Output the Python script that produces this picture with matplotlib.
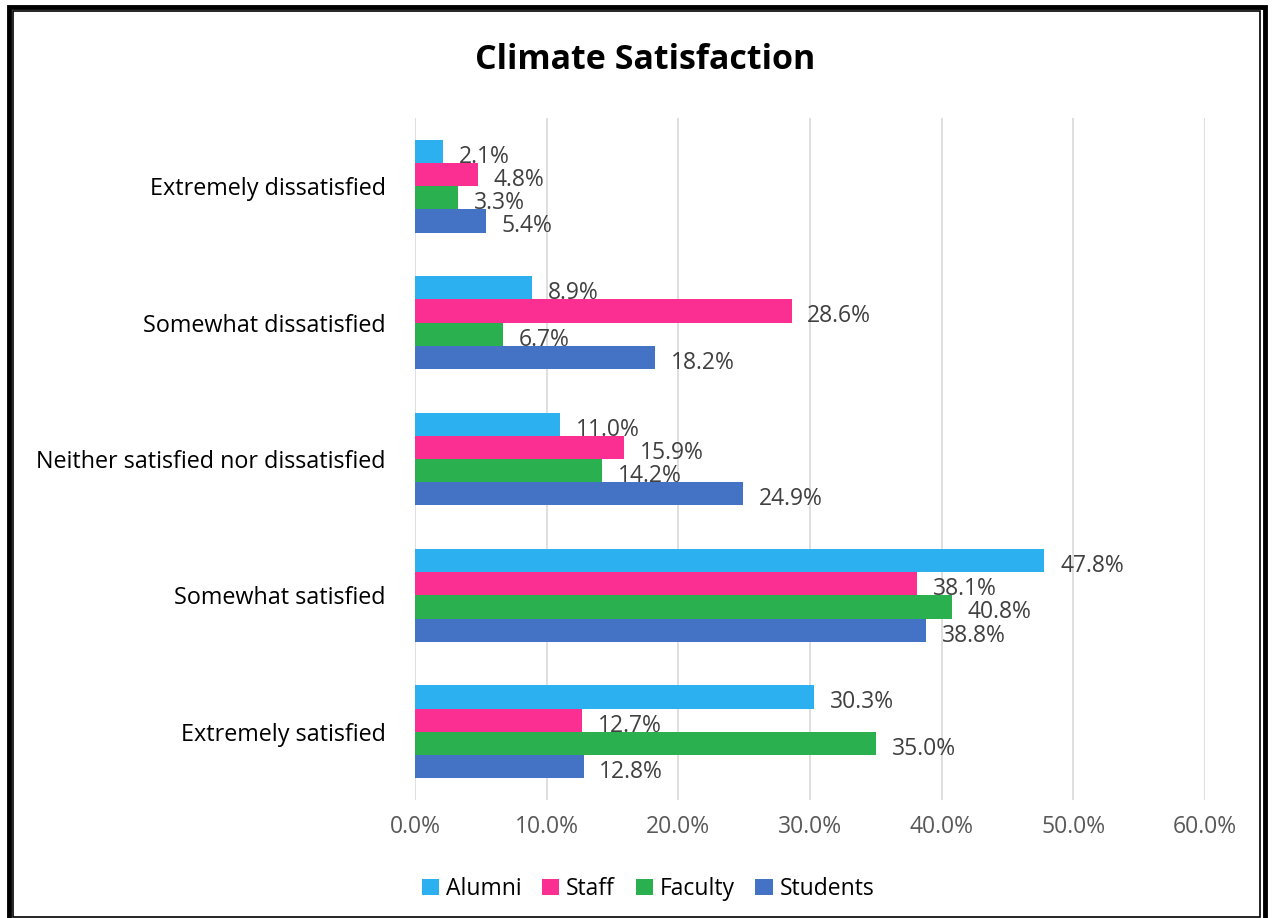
import matplotlib.pyplot as plt
import numpy as np
from matplotlib.patches import Rectangle

categories = ['Extremely dissatisfied', 'Somewhat dissatisfied', 'Neither satisfied nor dissatisfied',
              'Somewhat satisfied', 'Extremely satisfied']
series = ['Alumni', 'Staff', 'Faculty', 'Students']
alumni = [2.1, 8.9, 11.0, 47.8, 30.3]
staff = [4.8, 28.6, 15.9, 38.1, 12.7]
faculty = [3.3, 6.7, 14.2, 40.8, 35.0]
students = [5.4, 18.2, 24.9, 38.8, 12.8]
values = [alumni, staff, faculty, students]
colors = ['#2cb0ef', '#fb2f92', '#2bb04f', '#4472c4']

plt.rcParams['font.family'] = ['Open Sans', 'DejaVu Sans']

W, H = 1273, 918
fig = plt.figure(figsize=(W / 100, H / 100), dpi=100)
ax = fig.add_axes([415 / W, 1 - 800 / H, 790 / W, 682 / H])

y = np.arange(len(categories))
h = 0.17
for i, (vals, c, name) in enumerate(zip(values, colors, series)):
    pos = y + (i - 1.5) * h
    ax.barh(pos, vals, height=h, color=c, label=name, zorder=3)
    for p, v in zip(pos, vals):
        ax.text(v + 1.2, p + 0.04, f'{v:.1f}%', va='center', ha='left',
                fontsize=16.5, color='#404040', zorder=4)

ax.set_ylim(len(categories) - 0.5, -0.5)
ax.set_xlim(0, 60)
ticks = np.arange(0, 61, 10)
ax.set_xticks(ticks)
ax.set_xticklabels([f'{t:.1f}%' for t in ticks], fontsize=16.5, color='#595959')
ax.set_yticks(y)
ax.set_yticklabels(categories, fontsize=16.8, color='#000000')
ax.tick_params(axis='both', length=0)
ax.tick_params(axis='x', pad=11)
ax.tick_params(axis='y', pad=21)
ax.grid(axis='x', color='#d9d9d9', linewidth=1.2, zorder=0)
for s in ax.spines.values():
    s.set_visible(False)

fig.text(645 / W, 1 - 60 / H, 'Climate Satisfaction', ha='center', va='center',
         fontsize=24.5, fontweight='bold', color='#000000')

ax.legend(loc='center', bbox_to_anchor=(648 / W, 1 - 889 / H), bbox_transform=fig.transFigure,
          ncol=4, frameon=False, fontsize=16.5, handlelength=0.75, handleheight=0.75,
          handletextpad=0.3, columnspacing=0.9)

# double frame
fig.patches.append(Rectangle((8.5 / W, -0.02), 1256.5 / W, 1 - 7 / H + 0.02,
                             transform=fig.transFigure, fill=False, lw=3.5, ec='black'))
fig.patches.append(Rectangle((13 / W, 1 - 917 / H), 1247 / W, 906 / H,
                             transform=fig.transFigure, fill=False, lw=1.2, ec='black'))

fig.savefig('out.png', dpi=100)
